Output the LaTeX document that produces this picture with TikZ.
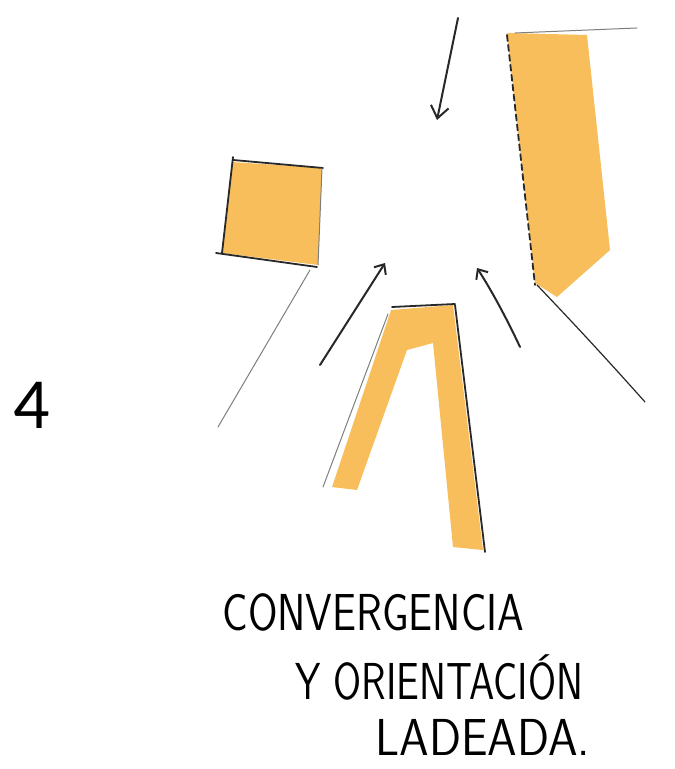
\documentclass[tikz,border=0pt]{standalone}
\usepackage{fontspec}
\usetikzlibrary{arrows.meta}
\newfontfamily\numfont{Carlito}
\definecolor{ocre}{RGB}{248,190,92}
\definecolor{pencil}{RGB}{40,40,40}
\begin{document}
\begin{tikzpicture}[x=0.5pt, y=-0.5pt, line cap=round, line join=round,
		pen/.style={pencil, line width=0.9pt},
		faint/.style={pencil!60, line width=0.5pt},
		flow/.style={pencil, line width=1pt, -{Straight Barb[length=4pt,width=7pt]}},
		words/.style={anchor=west, inner sep=0pt, font=\sffamily\fontsize{26}{26}\selectfont}]
		\useasboundingbox (0,0) rectangle (674,769);
		
		%number
		\node[font=\numfont\fontsize{36}{36}\selectfont] (num) at (32,405) {4};
		
		%left block
		\fill[ocre] (232,162) -- (322,168) -- (318,265) -- (222,253) -- cycle;
		\draw[pen] (233,157) -- (222,253);
		\draw[pen] (233,160) -- (323,168);
		\draw[pen] (216,253) -- (317,267);
		\draw[faint] (322,168) -- (318,265);
		
		%right block
		\fill[ocre] (507,33) -- (587,35) -- (610,250) -- (557,297) -- (535,283) -- cycle;
		\draw[pen, densely dashed] (507,35) -- (535,285);
		\draw[faint] (515,33) -- (637,28);
		
		%middle block
		\fill[ocre] (391,310) -- (453,305) -- (483,550) -- (453,547) -- (433,343) -- (407,350) -- (357,490) -- (332,487) -- cycle;
		\draw[faint] (388,314) -- (323,487);
		\draw[pen] (392,307) -- (455,304);
		\draw[pen] (455,305) -- (485,552);
		
		%edges
		\draw[faint] (310,270) -- (218,427);
		\draw[pen, line width=0.6pt] (537,285) .. controls (580,330) and (612,365) .. (645,402);
		
		%arrows
		\coordinate (topA) at (458,18);
		\coordinate (topB) at (437,120);
		\coordinate (leftA) at (320,365);
		\coordinate (leftB) at (385,263);
		\coordinate (rightA) at (520,347);
		\coordinate (rightB) at (477,268);
		\draw[flow, -{Straight Barb[length=6pt,width=9pt]}] (topA) -- (topB);
		\draw[flow] (leftA) -- (leftB);
		\draw[flow] (rightA) .. controls (505,315) and (490,288) .. (rightB);
		
		%text
		\node[words] (lbla) at (222,612) {\scalebox{0.82}[1]{CONVERGENCIA}};
		\node[words] (lblb) at (295,677) {\scalebox{0.78}[1]{Y ORIENTACIÓN}};
		\node[words] (lblc) at (375,737) {\scalebox{0.91}[1]{LADEADA.}};
		\end{tikzpicture}
\end{document}
